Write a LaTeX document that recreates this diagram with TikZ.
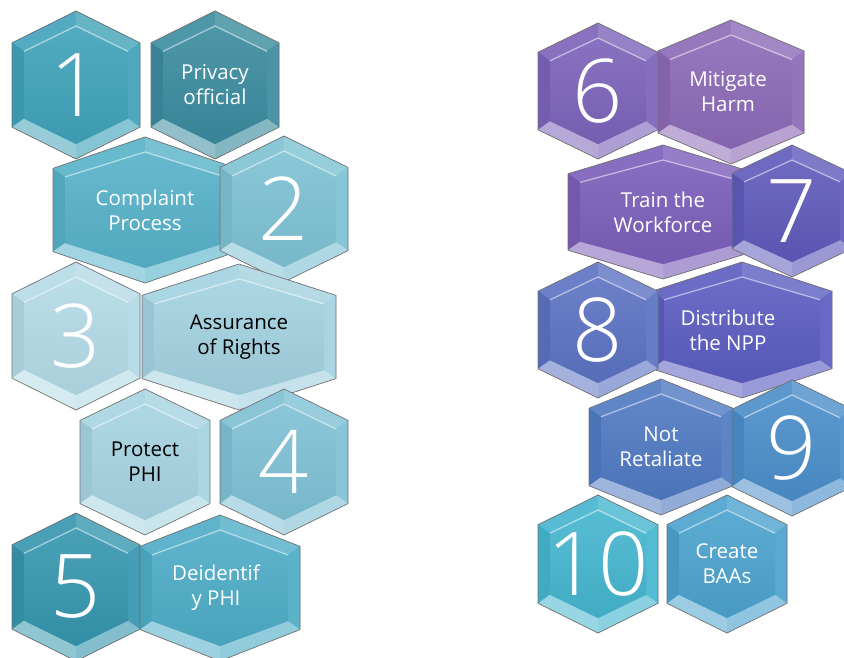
\documentclass[tikz,border=0pt]{standalone}
\usepackage{fontspec}
\setmainfont{Open Sans}
\newfontfamily\numfont{Open Sans Light}
\usepackage{xcolor}
\usepackage{tikz}

% hexagon fill colours
\definecolor{cN1}{HTML}{3FA2B9}
\definecolor{cT1}{HTML}{3A8B9E}
\definecolor{cT2}{HTML}{56B1C8}
\definecolor{cN2}{HTML}{7DC1D3}
\definecolor{cN3}{HTML}{B3DAE6}
\definecolor{cT3}{HTML}{A2D1E0}
\definecolor{cT4}{HTML}{A6D3E1}
\definecolor{cN4}{HTML}{7EC0D4}
\definecolor{cN5}{HTML}{3596AE}
\definecolor{cT5}{HTML}{4DACC6}
\definecolor{cN6}{HTML}{7B63B9}
\definecolor{cT6}{HTML}{8B69B6}
\definecolor{cT7}{HTML}{7A5EB9}
\definecolor{cN7}{HTML}{5F59BA}
\definecolor{cN8}{HTML}{5B72C2}
\definecolor{cT8}{HTML}{5A5CC0}
\definecolor{cT9}{HTML}{4F79C2}
\definecolor{cN9}{HTML}{4A8DC9}
\definecolor{cN10}{HTML}{44B5CE}
\definecolor{cT10}{HTML}{4BA2CD}

\tikzset{
  hexedge/.style={draw=black!55, line width=0.7pt, line join=miter},
  numtext/.style={text=white, inner sep=0pt, font=\numfont\fontsize{88}{88}\selectfont},
  lbltext/.style={text=white, align=center, inner sep=0pt, font=\fontsize{20.5}{25}\selectfont},
  darktext/.style={lbltext, text=black},
}

% bevelled hexagon: name, cx, cy, half width, half height, colour, text style, text
\newcommand{\bevelhex}[8]{%
  \begin{scope}[shift={(#2,#3)}]
    \pgfmathsetmacro\hexW{#4}
    \pgfmathsetmacro\hexH{#5}
    \pgfmathsetmacro\hexS{0.57*#5}
    \pgfmathsetmacro\innW{#4-12}
    \pgfmathsetmacro\innH{#5-15}
    \pgfmathsetmacro\innS{0.57*(#5-15)}
    \coordinate (#1-T) at (0,-\hexH);
    \coordinate (#1-TR) at (\hexW,-\hexS);
    \coordinate (#1-BR) at (\hexW,\hexS);
    \coordinate (#1-B) at (0,\hexH);
    \coordinate (#1-BL) at (-\hexW,\hexS);
    \coordinate (#1-TL) at (-\hexW,-\hexS);
    \coordinate (#1-iT) at (0,-\innH);
    \coordinate (#1-iTR) at (\innW,-\innS);
    \coordinate (#1-iBR) at (\innW,\innS);
    \coordinate (#1-iB) at (0,\innH);
    \coordinate (#1-iBL) at (-\innW,\innS);
    \coordinate (#1-iTL) at (-\innW,-\innS);
    \fill[#6] (#1-T)--(#1-TR)--(#1-BR)--(#1-B)--(#1-BL)--(#1-TL)--cycle;
    \fill[#6!90!white] (#1-TL)--(#1-T)--(#1-iT)--(#1-iTL)--cycle;
    \fill[#6!80!white] (#1-T)--(#1-TR)--(#1-iTR)--(#1-iT)--cycle;
    \fill[#6!94!black] (#1-BL)--(#1-TL)--(#1-iTL)--(#1-iBL)--cycle;
    \fill[#6!92!white] (#1-TR)--(#1-BR)--(#1-iBR)--(#1-iTR)--cycle;
    \fill[#6!62!white] (#1-BR)--(#1-B)--(#1-iB)--(#1-iBR)--cycle;
    \fill[#6!55!white] (#1-B)--(#1-BL)--(#1-iBL)--(#1-iB)--cycle;
    \shade[top color=#6!90!white, bottom color=#6!95!black]
      (#1-iT)--(#1-iTR)--(#1-iBR)--(#1-iB)--(#1-iBL)--(#1-iTL)--cycle;
    \draw[white, opacity=0.55, line width=1.2pt] (#1-iTL)--(#1-iT)--(#1-iTR);
    \draw[hexedge] (#1-T)--(#1-TR)--(#1-BR)--(#1-B)--(#1-BL)--(#1-TL)--cycle;
    \node[#7] (#1) at (0,0) {#8};
  \end{scope}}

\begin{document}
\begin{tikzpicture}[x=1pt, y=-1pt]
    \useasboundingbox (0,0) rectangle (844,658);

    % left column
    \bevelhex{N1}{76}{85}{64}{74}{cN1}{numtext}{1}
    \bevelhex{T1}{215}{85}{64}{74}{cT1}{lbltext}{Privacy\\official}
    \bevelhex{T2}{145}{210}{92}{73}{cT2}{lbltext}{Complaint\\Process}
    \bevelhex{N2}{284}{209}{64}{73}{cN2}{numtext}{2}
    \bevelhex{N3}{76}{336}{64}{74}{cN3}{numtext}{3}
    \bevelhex{T3}{239}{337}{97}{73}{cT3}{darktext}{Assurance\\of Rights}
    \bevelhex{T4}{145}{462}{65}{73}{cT4}{darktext}{Protect\\PHI}
    \bevelhex{N4}{284}{462}{64}{73}{cN4}{numtext}{4}
    \bevelhex{N5}{76}{587}{64}{74}{cN5}{numtext}{5}
    \bevelhex{T5}{220}{588}{80}{73}{cT5}{lbltext, xshift=-4}{Deidentif\\y PHI}

    % right column
    \bevelhex{N6}{598}{91}{60}{68}{cN6}{numtext}{6}
    \bevelhex{T6}{731}{92}{73}{72}{cT6}{lbltext, xshift=-3}{Mitigate\\Harm}
    \bevelhex{T7}{663}{212}{95}{67}{cT7}{lbltext}{Train the\\Workforce}
    \bevelhex{N7}{792}{211}{60}{66}{cN7}{numtext}{7}
    \bevelhex{T8}{742}{330}{90}{68}{cT8}{lbltext, xshift=-14}{Distribute\\the NPP}
    \bevelhex{N8}{598}{330}{60}{68}{cN8}{numtext}{8}
    \bevelhex{T9}{661}{447}{72}{68}{cT9}{lbltext}{Not\\Retaliate}
    \bevelhex{N9}{792}{448}{60}{68}{cN9}{numtext}{9}
    \bevelhex{N10}{598}{564}{60}{69}{cN10}{numtext}{10}
    \bevelhex{T10}{727}{564}{60}{69}{cT10}{lbltext}{Create\\BAAs}
\end{tikzpicture}
\end{document}
